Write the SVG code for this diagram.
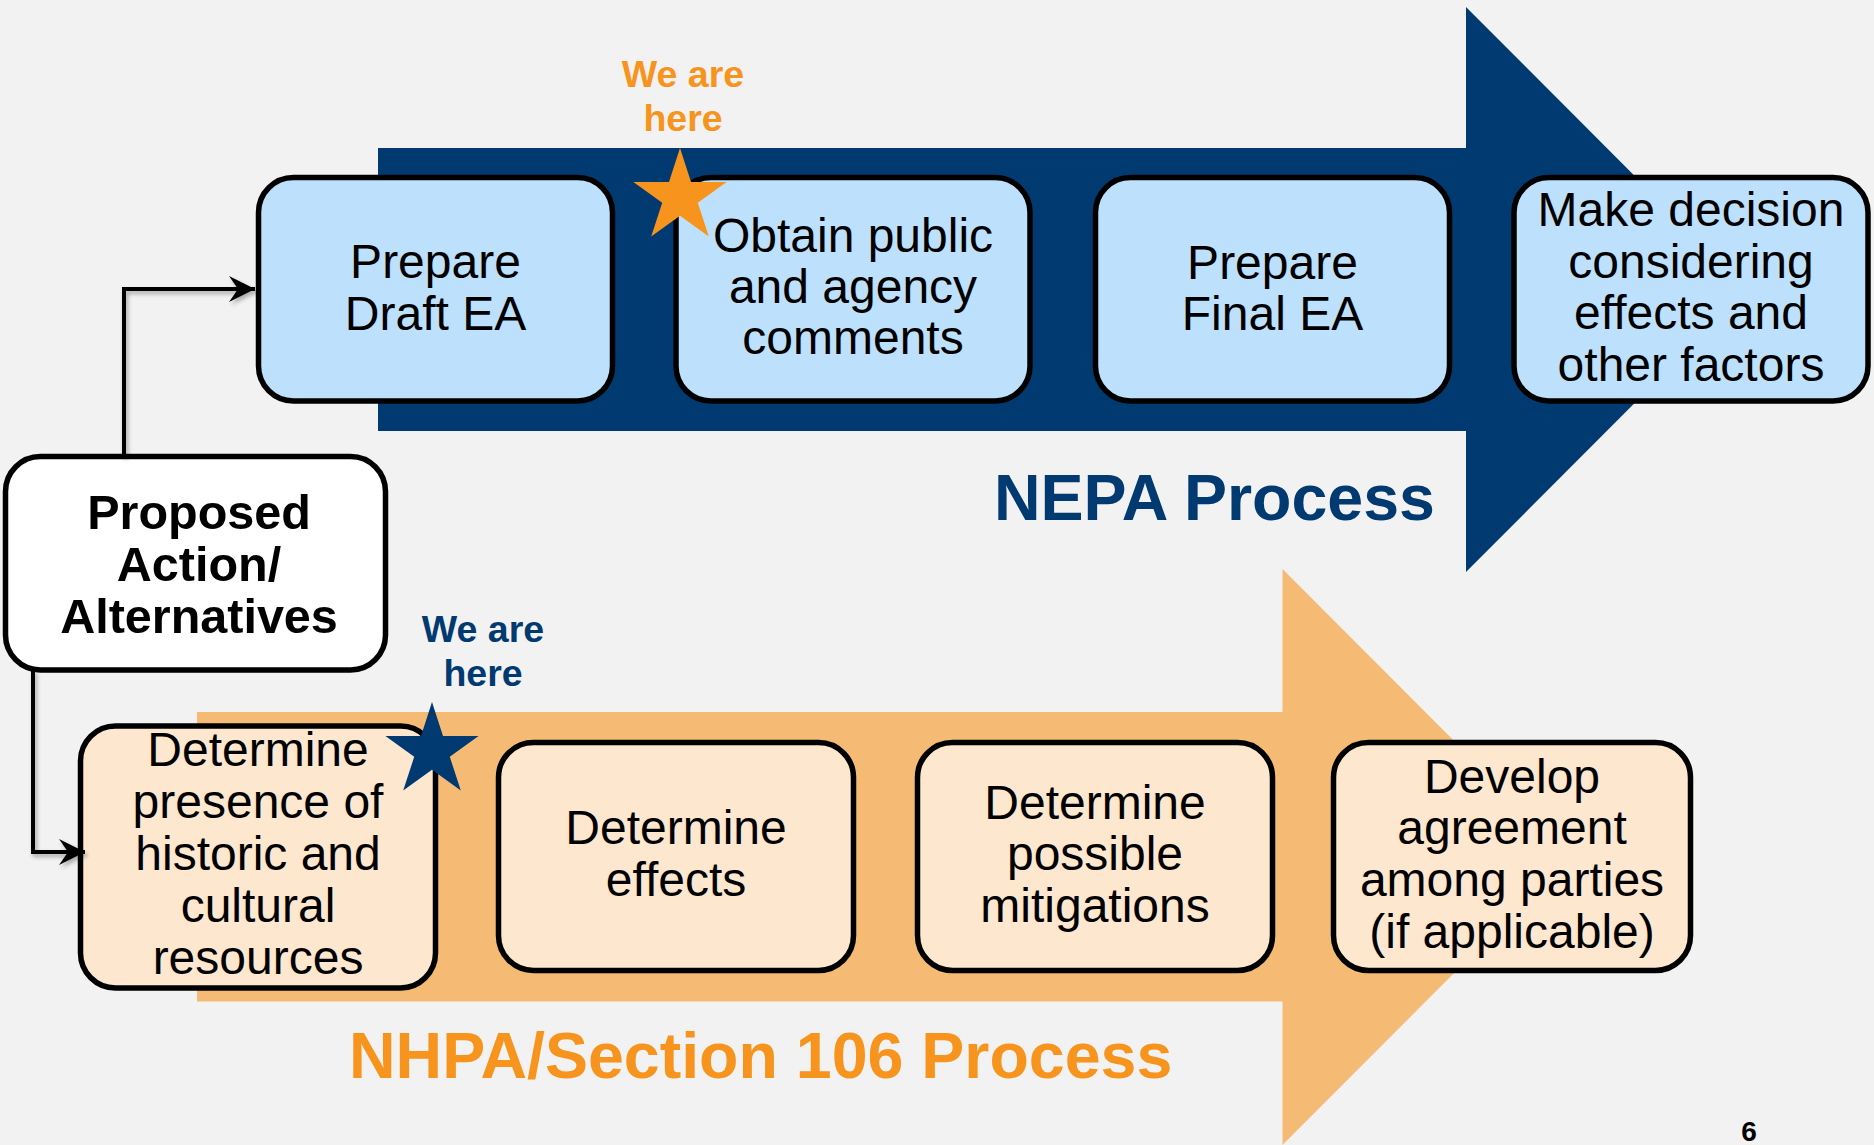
<svg xmlns="http://www.w3.org/2000/svg" xmlns:xlink="http://www.w3.org/1999/xlink" width="1874" height="1145" viewBox="0 0 1874 1145">
  <style>
    .box { stroke: #000000; stroke-width: 5.5; }
    .nepa { fill: #BDE0FC; }
    .nhpa { fill: #FDE7CF; }
    .white { fill: #FFFFFF; }
    .t { font-family: "Liberation Sans", Arial, sans-serif; font-size: 48px; fill: #000000; text-anchor: middle; }
    .tb { font-family: "Liberation Sans", Arial, sans-serif; font-size: 48.5px; font-weight: bold; fill: #000000; text-anchor: middle; }
    .here { font-family: "Liberation Sans", Arial, sans-serif; font-size: 37.5px; font-weight: bold; text-anchor: middle; }
    .title { font-family: "Liberation Sans", Arial, sans-serif; font-size: 64.5px; font-weight: bold; }
    .conn { fill: none; stroke: #000000; stroke-width: 4; }
  </style>
  <defs>
    <marker id="arrow" markerUnits="userSpaceOnUse" markerWidth="26" markerHeight="26" viewBox="0 0 26 26" refX="26" refY="13" orient="auto">
      <path d="M0,0 L26,13 L0,26 L9,13 Z" fill="#000000"/>
    </marker>
    <filter id="shadow" x="-20%" y="-20%" width="140%" height="140%">
      <feDropShadow dx="2" dy="3" stdDeviation="2" flood-color="#000000" flood-opacity="0.3"/>
    </filter>
    <polygon id="star" points="0,-49 11,-15.1 46.6,-15.1 17.8,5.8 28.8,39.6 0,18.7 -28.8,39.6 -17.8,5.8 -46.6,-15.1 -11,-15.1"/>
  </defs>

  <rect x="0" y="0" width="1874" height="1145" fill="#F2F2F2"/>

  <g id="nepa-arrow">
    <polygon points="378,148 1466,148 1466,7 1748,289.5 1466,572 1466,431 378,431" fill="#003A70"/>
  </g>
  <g id="nhpa-arrow">
    <polygon points="197,712 1282.5,712 1282.5,569 1570,857 1282.5,1145 1282.5,1001.5 197,1001.5" fill="#F5BB74"/>
  </g>

  <g id="label-nepa">
    <text class="title" x="994" y="520" fill="#003A70">NEPA Process</text>
  </g>
  <g id="label-nhpa">
    <text class="title" x="349" y="1078" fill="#F7941D">NHPA/Section 106 Process</text>
  </g>

  <g id="here-nepa">
    <text class="here" x="683" y="86.5" fill="#F7941D">We are</text>
    <text class="here" x="683" y="130.6" fill="#F7941D">here</text>
  </g>
  <g id="here-nhpa">
    <text class="here" x="483" y="641.5" fill="#003A70">We are</text>
    <text class="here" x="483" y="686" fill="#003A70">here</text>
  </g>

  <g id="node-draft-ea">
    <rect class="box nepa" x="258.5" y="177.5" width="354" height="223.5" rx="35" ry="35"/>
    <text class="t" x="435.5" y="278">Prepare</text>
    <text class="t" x="435.5" y="329.5">Draft EA</text>
  </g>
  <g id="node-obtain-comments">
    <rect class="box nepa" x="676" y="177.5" width="354" height="223.5" rx="35" ry="35"/>
    <text class="t" x="853" y="252">Obtain public</text>
    <text class="t" x="853" y="303">and agency</text>
    <text class="t" x="853" y="354">comments</text>
  </g>
  <g id="node-final-ea">
    <rect class="box nepa" x="1095.5" y="177.5" width="354" height="223.5" rx="35" ry="35"/>
    <text class="t" x="1272.5" y="279">Prepare</text>
    <text class="t" x="1272.5" y="330">Final EA</text>
  </g>
  <g id="node-make-decision">
    <rect class="box nepa" x="1514" y="177.5" width="354" height="223.5" rx="35" ry="35"/>
    <text class="t" x="1691" y="226">Make decision</text>
    <text class="t" x="1691" y="278">considering</text>
    <text class="t" x="1691" y="329">effects and</text>
    <text class="t" x="1691" y="380.5">other factors</text>
  </g>

  <g id="node-proposed-action">
    <rect class="box white" x="5.5" y="456.5" width="380" height="213.5" rx="35" ry="35"/>
    <text class="tb" x="199" y="529">Proposed</text>
    <text class="tb" x="199" y="581">Action/</text>
    <text class="tb" x="199" y="633">Alternatives</text>
  </g>

  <g id="node-determine-presence">
    <rect class="box nhpa" x="80.5" y="726" width="355" height="262" rx="35" ry="35"/>
    <text class="t" x="258" y="766">Determine</text>
    <text class="t" x="258" y="818">presence of</text>
    <text class="t" x="258" y="870">historic and</text>
    <text class="t" x="258" y="922">cultural</text>
    <text class="t" x="258" y="974">resources</text>
  </g>
  <g id="node-determine-effects">
    <rect class="box nhpa" x="498.5" y="742.5" width="355" height="228" rx="35" ry="35"/>
    <text class="t" x="676" y="844">Determine</text>
    <text class="t" x="676" y="895.5">effects</text>
  </g>
  <g id="node-determine-mitigations">
    <rect class="box nhpa" x="917.5" y="742.5" width="355" height="228" rx="35" ry="35"/>
    <text class="t" x="1095" y="819">Determine</text>
    <text class="t" x="1095" y="870">possible</text>
    <text class="t" x="1095" y="922">mitigations</text>
  </g>
  <g id="node-develop-agreement">
    <rect class="box nhpa" x="1333.5" y="742.5" width="357" height="228" rx="35" ry="35"/>
    <text class="t" x="1512" y="793">Develop</text>
    <text class="t" x="1512" y="844">agreement</text>
    <text class="t" x="1512" y="896">among parties</text>
    <text class="t" x="1512" y="948">(if applicable)</text>
  </g>

  <g id="star-nepa">
    <use xlink:href="#star" href="#star" x="680" y="197" fill="#F7941D"/>
  </g>
  <g id="star-nhpa">
    <use xlink:href="#star" href="#star" x="432" y="751" fill="#003A70"/>
  </g>

  <g id="connectors" filter="url(#shadow)">
    <path class="conn" d="M124,456 V289 H255" marker-end="url(#arrow)"/>
    <path class="conn" d="M33,670 V852 H85" marker-end="url(#arrow)"/>
  </g>

  <g id="page-number">
    <text x="1749" y="1141" font-family="'Liberation Sans', Arial, sans-serif" font-size="28" font-weight="bold" fill="#000000" text-anchor="middle">6</text>
  </g>
</svg>
